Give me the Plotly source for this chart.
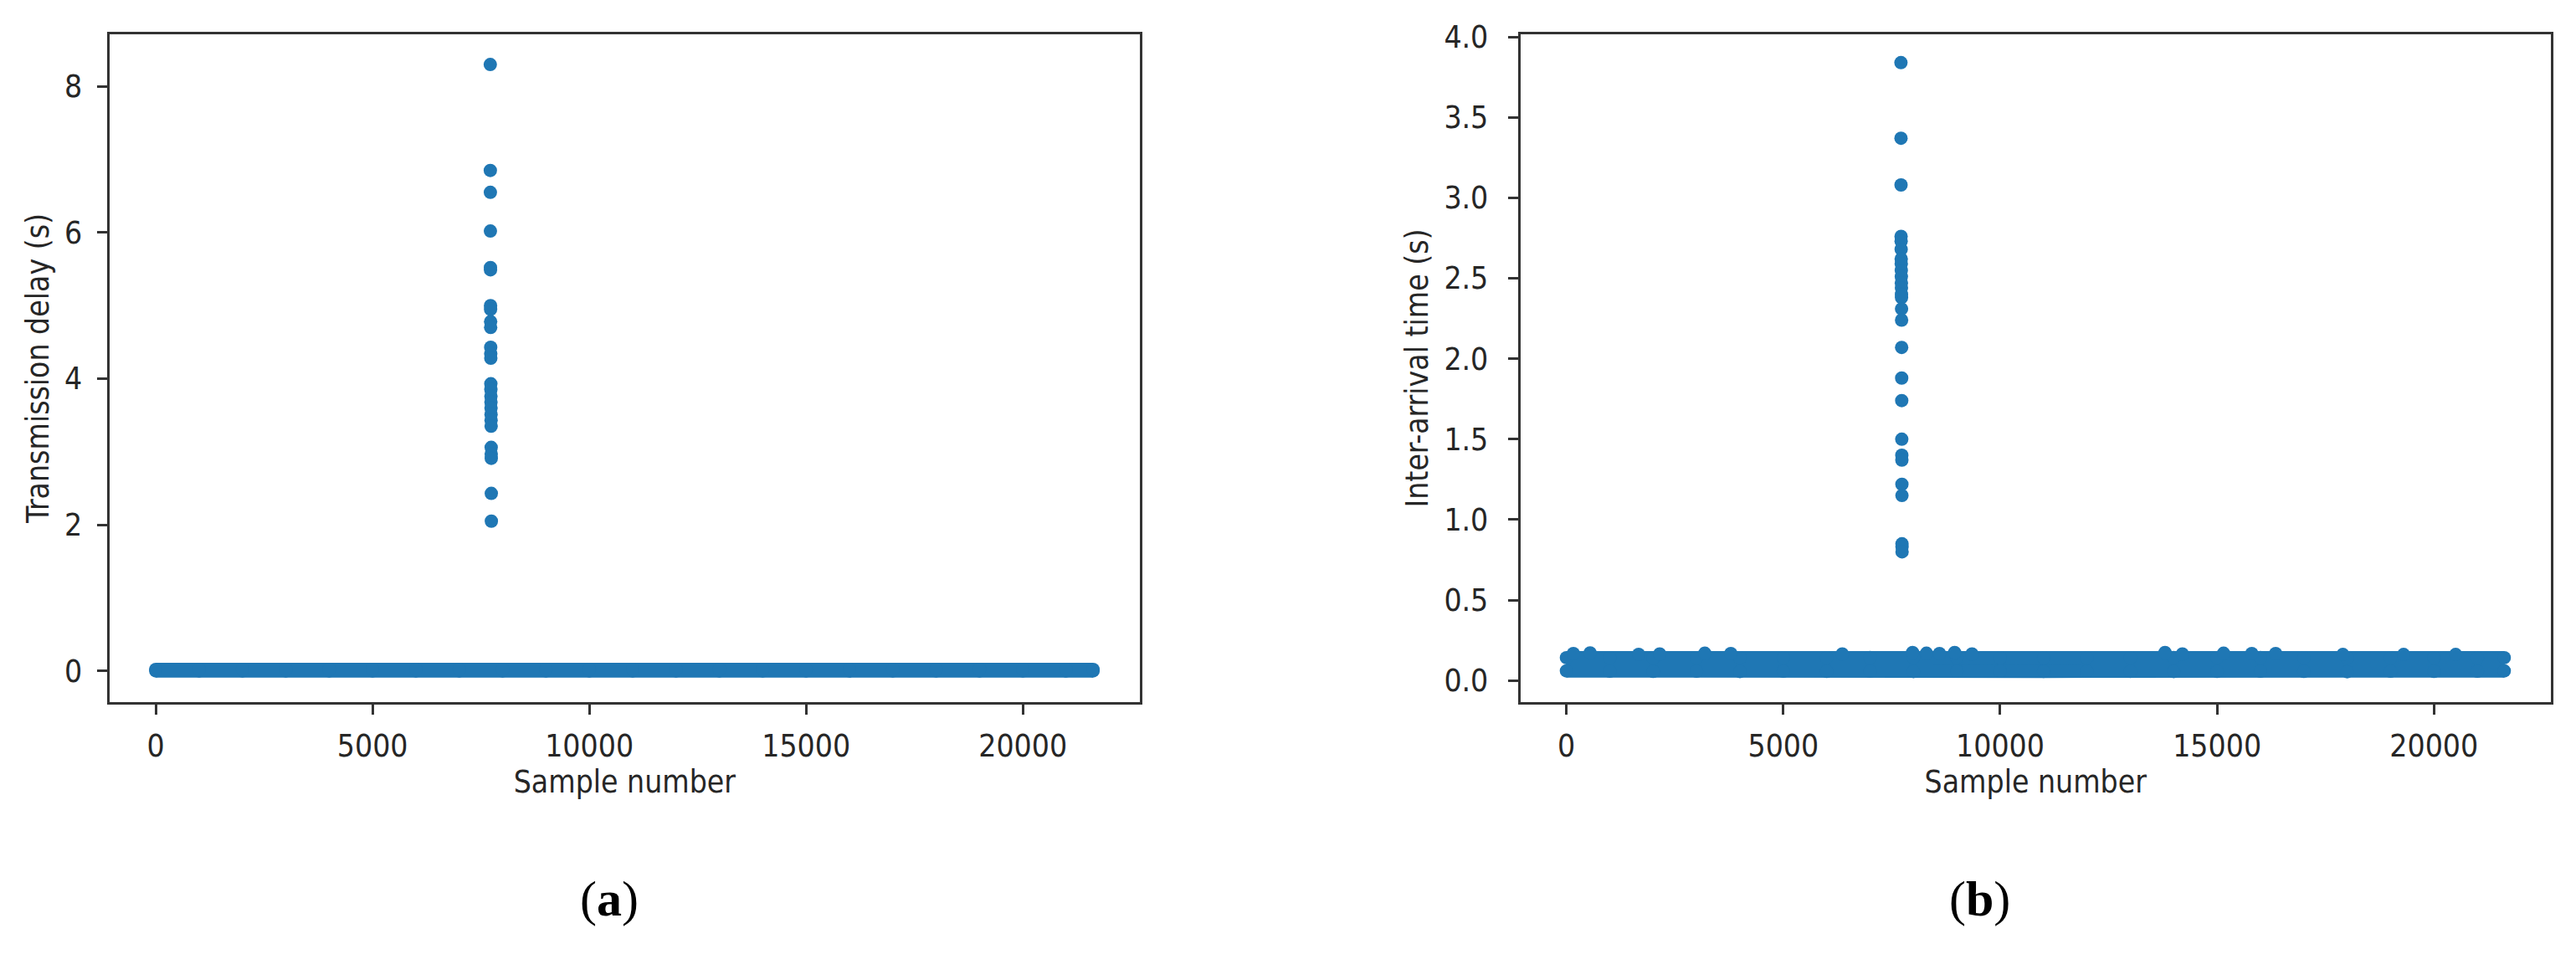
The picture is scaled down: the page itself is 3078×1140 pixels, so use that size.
import plotly.graph_objects as go
from plotly.subplots import make_subplots

BLUE = "#1f77b4"
AXIS = "#333333"
FONT = "DejaVu Sans Condensed, DejaVu Sans, sans-serif"

# x ticks shared by both panels
x_ticks = [0, 5000, 10000, 15000, 20000]
x_ticktext = ["0", "5000", "10000", "15000", "20000"]

# (a) transmission delay - outlier burst around sample 7720
spike_a_x = [7716, 7717, 7718, 7719, 7720, 7721, 7722, 7723, 7724, 7725, 7726, 7727, 7728,
             7729, 7730, 7731, 7732, 7733, 7734, 7735, 7736, 7737, 7738, 7739, 7740, 7741]
spike_a_y = [8.30, 6.85, 6.55, 6.02, 5.52, 5.49, 5.00, 4.95, 4.78, 4.70, 4.43, 4.34, 4.28,
             3.93, 3.85, 3.76, 3.68, 3.60, 3.51, 3.43, 3.35, 3.06, 2.97, 2.91, 2.43, 2.05]

# (a) the dense band of ordinary samples, read as a low / high envelope
band_a_x = [0, 1000, 2000, 3000, 4000, 5000, 6000, 7000, 8000, 9000, 10000, 11000,
            12000, 13000, 14000, 15000, 16000, 17000, 18000, 19000, 20000, 21000, 21620]
band_a_lo = [0.00, 0.00, 0.00, 0.00, 0.00, 0.00, 0.00, 0.00, 0.00, 0.00, 0.00, 0.00,
             0.00, 0.00, 0.00, 0.00, 0.00, 0.00, 0.00, 0.00, 0.00, 0.00, 0.00]
band_a_hi = [0.02, 0.02, 0.02, 0.02, 0.02, 0.02, 0.02, 0.02, 0.02, 0.02, 0.02, 0.02,
             0.02, 0.02, 0.02, 0.02, 0.02, 0.02, 0.02, 0.02, 0.02, 0.02, 0.02]

# (b) inter-arrival time
spike_b_x = [7712, 7713, 7714, 7715, 7716, 7717, 7718, 7719, 7720, 7721, 7722, 7723, 7724, 7725,
             7726, 7727, 7728, 7729, 7730, 7731, 7732, 7733, 7734, 7735, 7736, 7737, 7738]
spike_b_y = [3.84, 3.37, 3.08, 2.76, 2.73, 2.68, 2.62, 2.59, 2.55, 2.51, 2.47, 2.44, 2.40, 2.38,
             2.31, 2.24, 2.07, 1.88, 1.74, 1.50, 1.40, 1.37, 1.22, 1.15, 0.85, 0.83, 0.80]

band_b_x = [0, 1000, 2000, 3000, 4000, 5000, 6000, 7000, 8000, 9000, 10000, 11000,
            12000, 13000, 14000, 15000, 16000, 17000, 18000, 19000, 20000, 21000, 21620]
band_b_lo = [0.060, 0.058, 0.057, 0.058, 0.056, 0.058, 0.057, 0.058, 0.056, 0.058, 0.058, 0.057,
             0.058, 0.057, 0.056, 0.057, 0.058, 0.057, 0.055, 0.058, 0.057, 0.058, 0.060]
band_b_hi = [0.142, 0.141, 0.140, 0.142, 0.141, 0.142, 0.141, 0.143, 0.144, 0.143, 0.141, 0.140,
             0.140, 0.141, 0.143, 0.142, 0.143, 0.141, 0.140, 0.141, 0.142, 0.141, 0.142]

# taller individual points poking out of the band
bump_b_x = [160, 546, 1665, 2150, 3190, 3790, 6360, 7980, 8300, 8600, 8950, 9350,
            13800, 14200, 15150, 15800, 16350, 17900, 19300, 20500]
bump_b_y = [0.168, 0.172, 0.163, 0.165, 0.170, 0.168, 0.165, 0.174, 0.170, 0.168, 0.174, 0.165,
            0.174, 0.165, 0.170, 0.168, 0.168, 0.162, 0.162, 0.162]

MS = 16  # marker diameter in px

fig = make_subplots(rows=1, cols=2)


def add_band(xs, lo, hi, col):
    fig.add_trace(go.Scatter(x=xs, y=lo, mode="lines+markers", line=dict(color=BLUE, width=MS),
                             marker=dict(color=BLUE, size=MS), hoverinfo="skip", showlegend=False),
                  row=1, col=col)
    fig.add_trace(go.Scatter(x=xs, y=hi, mode="lines+markers", line=dict(color=BLUE, width=MS),
                             marker=dict(color=BLUE, size=MS), fill="tonexty", fillcolor=BLUE,
                             hoverinfo="skip", showlegend=False),
                  row=1, col=col)


add_band(band_a_x, band_a_lo, band_a_hi, 1)
fig.add_trace(go.Scatter(x=spike_a_x, y=spike_a_y, mode="markers",
                         marker=dict(color=BLUE, size=MS, line=dict(width=0)), showlegend=False),
              row=1, col=1)

add_band(band_b_x, band_b_lo, band_b_hi, 2)
fig.add_trace(go.Scatter(x=bump_b_x, y=bump_b_y, mode="markers",
                         marker=dict(color=BLUE, size=MS, line=dict(width=0)), showlegend=False),
              row=1, col=2)
fig.add_trace(go.Scatter(x=spike_b_x, y=spike_b_y, mode="markers",
                         marker=dict(color=BLUE, size=MS, line=dict(width=0)), showlegend=False),
              row=1, col=2)

ax = dict(showline=True, linecolor=AXIS, linewidth=3, mirror=True, showgrid=False, zeroline=False,
          ticks="outside", ticklen=12, tickwidth=3, tickcolor=AXIS, automargin=False,
          tickfont=dict(family=FONT, size=37, color="#262626"))
title_font = dict(family=FONT, size=37, color="#262626")

fig.update_xaxes(**ax, tickvals=x_ticks, ticktext=x_ticktext, ticklabelstandoff=6,
                 title=dict(text="Sample number", font=title_font, standoff=4))
fig.update_xaxes(domain=[0.04246, 0.44250], range=[-1070, 22700], row=1, col=1)
fig.update_xaxes(domain=[0.59022, 0.99016], range=[-1061, 22690], row=1, col=2)

fig.update_yaxes(domain=[0.26404, 0.96404], range=[-0.427, 8.713], tickvals=[0, 2, 4, 6, 8],
                 ticklabelstandoff=10,
                 title=dict(text="Transmission delay (s)", font=title_font, standoff=8),
                 row=1, col=1, **ax)
fig.update_yaxes(domain=[0.26404, 0.96404], range=[-0.134, 4.016],
                 tickvals=[0, 0.5, 1, 1.5, 2, 2.5, 3, 3.5, 4],
                 ticktext=["0.0", "0.5", "1.0", "1.5", "2.0", "2.5", "3.0", "3.5", "4.0"],
                 ticklabelstandoff=16,
                 title=dict(text="Inter-arrival time (s)", font=title_font, standoff=8),
                 row=1, col=2, **ax)

for label, xc in [("(<b>a</b>)", 728 / 3078), ("(<b>b</b>)", 2365 / 3078)]:
    fig.add_annotation(text=label, x=xc, y=1 - 1074 / 1140, xref="paper", yref="paper",
                       showarrow=False, xanchor="center", yanchor="middle",
                       font=dict(family="Liberation Serif, DejaVu Serif, serif", size=60, color="black"))

fig.update_layout(width=3078, height=1140, margin=dict(l=0, r=0, t=0, b=0),
                  paper_bgcolor="white", plot_bgcolor="white")

fig.write_html("out.html", config={"displayModeBar": False},
               post_script="document.body.style.margin='0';")
